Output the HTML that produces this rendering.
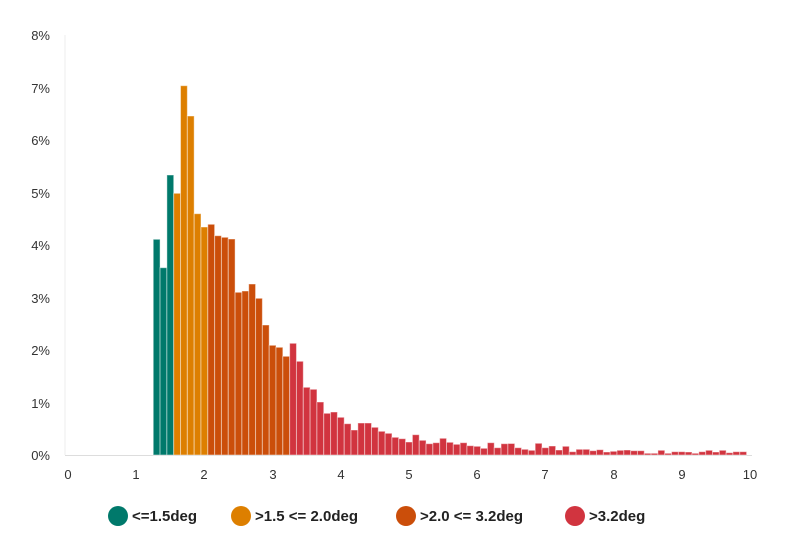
<!DOCTYPE html>
<html><head><style>body{margin:0;background:#fff}svg{display:block;font-family:"Liberation Sans",sans-serif}</style></head>
<body>
<svg width="794" height="554" xmlns="http://www.w3.org/2000/svg">
<g font-size="13" fill="#333" text-anchor="end">
<text x="50" y="40">8%</text><text x="50" y="93">7%</text><text x="50" y="145">6%</text><text x="50" y="198">5%</text><text x="50" y="250">4%</text><text x="50" y="303">3%</text><text x="50" y="355">2%</text><text x="50" y="408">1%</text><text x="50" y="460">0%</text>
</g>
<line x1="65" y1="35" x2="65" y2="455" stroke="#eee"/>
<line x1="65" y1="455.5" x2="752" y2="455.5" stroke="#ddd"/>
<g font-size="13" fill="#333" text-anchor="middle">
<text x="68" y="479">0</text><text x="136" y="479">1</text><text x="204" y="479">2</text><text x="273" y="479">3</text><text x="341" y="479">4</text><text x="409" y="479">5</text><text x="477" y="479">6</text><text x="545" y="479">7</text><text x="614" y="479">8</text><text x="682" y="479">9</text><text x="750" y="479">10</text>
</g>
<g transform="translate(0,455) scale(1,-1)" stroke="rgba(255,255,255,0.45)" stroke-width="1">
<g fill="#00796b">
<rect x="153.25" y="0" width="6.82" height="215.7"/>
<rect x="160.07" y="0" width="6.82" height="187.3"/>
<rect x="166.89" y="0" width="6.82" height="280"/>
</g>
<g fill="#dd7f00">
<rect x="173.71" y="0" width="6.82" height="261.7"/>
<rect x="180.53" y="0" width="6.82" height="369.3"/>
<rect x="187.35" y="0" width="6.82" height="339"/>
<rect x="194.17" y="0" width="6.82" height="241.3"/>
<rect x="200.99" y="0" width="6.82" height="228"/>
</g>
<g fill="#cb4e0a">
<rect x="207.81" y="0" width="6.82" height="230.7"/>
<rect x="214.63" y="0" width="6.82" height="219.3"/>
<rect x="221.45" y="0" width="6.82" height="217.7"/>
<rect x="228.27" y="0" width="6.82" height="216"/>
<rect x="235.09" y="0" width="6.82" height="162.7"/>
<rect x="241.91" y="0" width="6.82" height="164"/>
<rect x="248.73" y="0" width="6.82" height="171"/>
<rect x="255.55" y="0" width="6.82" height="156.7"/>
<rect x="262.37" y="0" width="6.82" height="130"/>
<rect x="269.19" y="0" width="6.82" height="109.7"/>
<rect x="276.01" y="0" width="6.82" height="107.7"/>
<rect x="282.83" y="0" width="6.82" height="98.7"/>
</g>
<g fill="#d1343f">
<rect x="289.65" y="0" width="6.82" height="111.7"/>
<rect x="296.47" y="0" width="6.82" height="93.7"/>
<rect x="303.29" y="0" width="6.82" height="67.7"/>
<rect x="310.11" y="0" width="6.82" height="65.7"/>
<rect x="316.93" y="0" width="6.82" height="53"/>
<rect x="323.75" y="0" width="6.82" height="41.7"/>
<rect x="330.57" y="0" width="6.82" height="43"/>
<rect x="337.39" y="0" width="6.82" height="37.7"/>
<rect x="344.21" y="0" width="6.82" height="31.3"/>
<rect x="351.03" y="0" width="6.82" height="25"/>
<rect x="357.85" y="0" width="6.82" height="32"/>
<rect x="364.67" y="0" width="6.82" height="32"/>
<rect x="371.49" y="0" width="6.82" height="27.7"/>
<rect x="378.31" y="0" width="6.82" height="23.7"/>
<rect x="385.13" y="0" width="6.82" height="21.7"/>
<rect x="391.95" y="0" width="6.82" height="17.7"/>
<rect x="398.77" y="0" width="6.82" height="16.3"/>
<rect x="405.59" y="0" width="6.82" height="13"/>
<rect x="412.41" y="0" width="6.82" height="20.3"/>
<rect x="419.23" y="0" width="6.82" height="14.7"/>
<rect x="426.05" y="0" width="6.82" height="11.3"/>
<rect x="432.87" y="0" width="6.82" height="12.3"/>
<rect x="439.69" y="0" width="6.82" height="16.7"/>
<rect x="446.51" y="0" width="6.82" height="12.7"/>
<rect x="453.33" y="0" width="6.82" height="10.7"/>
<rect x="460.15" y="0" width="6.82" height="12.3"/>
<rect x="466.97" y="0" width="6.82" height="9.3"/>
<rect x="473.79" y="0" width="6.82" height="8.7"/>
<rect x="480.61" y="0" width="6.82" height="6.7"/>
<rect x="487.43" y="0" width="6.82" height="12.3"/>
<rect x="494.25" y="0" width="6.82" height="7.3"/>
<rect x="501.07" y="0" width="6.82" height="11.3"/>
<rect x="507.89" y="0" width="6.82" height="11.5"/>
<rect x="514.71" y="0" width="6.82" height="7.3"/>
<rect x="521.53" y="0" width="6.82" height="5.7"/>
<rect x="528.35" y="0" width="6.82" height="4.7"/>
<rect x="535.17" y="0" width="6.82" height="11.7"/>
<rect x="541.99" y="0" width="6.82" height="7.3"/>
<rect x="548.81" y="0" width="6.82" height="9"/>
<rect x="555.63" y="0" width="6.82" height="5"/>
<rect x="562.45" y="0" width="6.82" height="8.7"/>
<rect x="569.27" y="0" width="6.82" height="3.3"/>
<rect x="576.09" y="0" width="6.82" height="5.7"/>
<rect x="582.91" y="0" width="6.82" height="5.7"/>
<rect x="589.73" y="0" width="6.82" height="4.3"/>
<rect x="596.55" y="0" width="6.82" height="5.3"/>
<rect x="603.37" y="0" width="6.82" height="3"/>
<rect x="610.19" y="0" width="6.82" height="3.7"/>
<rect x="617.01" y="0" width="6.82" height="4.7"/>
<rect x="623.83" y="0" width="6.82" height="5"/>
<rect x="630.65" y="0" width="6.82" height="4.3"/>
<rect x="637.47" y="0" width="6.82" height="4.3"/>
<rect x="644.29" y="0" width="6.82" height="1.7"/>
<rect x="651.11" y="0" width="6.82" height="1.7"/>
<rect x="657.93" y="0" width="6.82" height="4.7"/>
<rect x="664.75" y="0" width="6.82" height="1.7"/>
<rect x="671.57" y="0" width="6.82" height="3.3"/>
<rect x="678.39" y="0" width="6.82" height="3.3"/>
<rect x="685.21" y="0" width="6.82" height="3"/>
<rect x="692.03" y="0" width="6.82" height="1.7"/>
<rect x="698.85" y="0" width="6.82" height="3.3"/>
<rect x="705.67" y="0" width="6.82" height="4.7"/>
<rect x="712.49" y="0" width="6.82" height="3"/>
<rect x="719.31" y="0" width="6.82" height="4.7"/>
<rect x="726.13" y="0" width="6.82" height="2.3"/>
<rect x="732.95" y="0" width="6.82" height="3.3"/>
<rect x="739.77" y="0" width="6.82" height="3.3"/>
</g>
</g>
<g font-size="15" font-weight="bold" fill="#222">
<circle cx="118" cy="516" r="10" fill="#00796b"/><text x="132" y="521">&lt;=1.5deg</text>
<circle cx="241" cy="516" r="10" fill="#dd7f00"/><text x="255" y="521">&gt;1.5 &lt;= 2.0deg</text>
<circle cx="406" cy="516" r="10" fill="#cb4e0a"/><text x="420" y="521">&gt;2.0 &lt;= 3.2deg</text>
<circle cx="575" cy="516" r="10" fill="#d1343f"/><text x="589" y="521">&gt;3.2deg</text>
</g>
</svg>
</body></html>
